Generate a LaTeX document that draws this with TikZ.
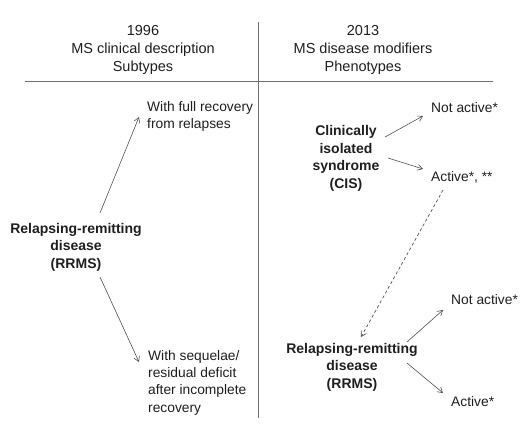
\documentclass[tikz,border=0pt]{standalone}
\usepackage{fontspec}
\setmainfont{Liberation Sans}
\usetikzlibrary{arrows.meta,calc}
\definecolor{txt}{HTML}{1E1E1E}
\definecolor{ln}{HTML}{707070}
\definecolor{ar}{HTML}{505050}
\begin{document}
\begin{tikzpicture}[x=1pt,y=-1pt,
  hdr/.style={font=\fontsize{14.5}{18}\selectfont,align=center,text=txt,inner sep=0pt},
  lbl/.style={font=\fontsize{13.8}{17.3}\selectfont,align=left,text=txt,inner sep=0pt},
  bld/.style={font=\fontsize{14}{17.5}\selectfont\bfseries,align=center,text=txt,inner sep=0pt},
  arr/.style={draw=ar,line width=0.6pt,-{Straight Barb[length=5pt,width=6pt]}},
  dsh/.style={draw=ar,line width=0.7pt,dash pattern=on 3pt off 2.5pt,-{Straight Barb[length=5pt,width=6pt]}},
  rule/.style={draw=ln,line width=0.8pt}]
\useasboundingbox (0,0) rectangle (532,428);
% frame lines
\coordinate (vt) at (258,22);
\coordinate (vb) at (258,418);
\coordinate (hl) at (25,81);
\coordinate (hr) at (493,81);
\draw[rule] (vt) -- (vb);
\draw[rule] (hl) -- (hr);
% headers
\node[hdr] (h1) at (143,50) {1996\\MS clinical description\\Subtypes};
\node[hdr] (h2) at (363,50) {2013\\MS disease modifiers\\Phenotypes};
% left side
\node[bld] (rrmsL) at (76,247) {Relapsing-remitting\\disease\\(RRMS)};
\node[lbl,anchor=west] (full) at (147,116.5) {With full recovery\\from relapses};
\node[lbl,anchor=west] (seq) at (148,382.5) {With sequelae/\\residual deficit\\after incomplete\\recovery};
% right side
\node[bld] (cis) at (346,158.5) {Clinically\\isolated\\syndrome\\(CIS)};
\node[lbl,anchor=west] (na1) at (431,108) {Not active*};
\node[lbl,anchor=west] (a1) at (431,177) {Active*, **};
\node[bld] (rrmsR) at (352,367) {Relapsing-remitting\\disease\\(RRMS)};
\node[lbl,anchor=west] (na2) at (451,300) {Not active*};
\node[lbl,anchor=west] (a2) at (451,402) {Active*};
% connectors
\draw[arr] ($(rrmsL.center)+(24,-34)$) -- ($(full.west)+(-8,0.5)$);
\draw[arr] ($(rrmsL.center)+(24,30)$) -- ($(seq.west)+(-9,-20.5)$);
\draw[arr] ($(cis.center)+(39,-21.5)$) -- ($(na1.west)+(-8,8)$);
\draw[arr] ($(cis.center)+(42,-0.5)$) -- ($(a1.west)+(-8,-8)$);
\draw[dsh] ($(a1.west)+(12,13)$) -- ($(rrmsR.center)+(9,-30)$);
\draw[arr] ($(rrmsR.center)+(55,-25)$) -- ($(na2.west)+(-8,10)$);
\draw[arr] ($(rrmsR.center)+(55,-4)$) -- ($(a2.west)+(-8,-9)$);
\end{tikzpicture}
\end{document}
